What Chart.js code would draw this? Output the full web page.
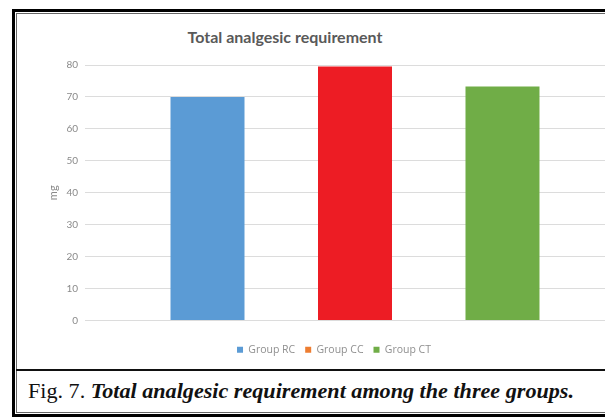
<!DOCTYPE html>
<html>
<head>
<meta charset="utf-8">
<script src="https://cdn.jsdelivr.net/npm/chart.js@4.4.1/dist/chart.umd.min.js"></script>
<style>
  html, body { margin: 0; padding: 0; width: 605px; height: 419px; overflow: hidden; background: #fff; }
  #outer { position: absolute; left: 12px; top: 9px; width: 640px; height: 408px; border: 3px solid #000; box-sizing: border-box; }
  #inner { position: absolute; left: 16px; top: 13px; width: 630px; height: 400px; border: 1px solid #666; box-sizing: border-box; }
  #rule { position: absolute; left: 16px; top: 369px; width: 630px; height: 2px; background: #111; }
  #title { position: absolute; left: 135px; top: 27px; width: 300px; text-align: center;
           font: bold 16px Lato, "Open Sans", sans-serif; color: #595959; }
  #wrap { position: absolute; left: 17px; top: 14px; width: 636px; height: 355px; }
  #caption { position: absolute; left: 28px; top: 379px; white-space: nowrap; transform-origin: 0 50%;
             font-family: "Liberation Serif", serif; font-size: 21px; color: #111; }
  #caption i { font-weight: bold; }
</style>
</head>
<body>
<div id="outer"></div>
<div id="inner"></div>
<div id="title">Total analgesic requirement</div>
<div id="wrap"><canvas id="chart"></canvas></div>
<div id="rule"></div>
<div id="caption">Fig. 7. <i>Total analgesic requirement among the three groups.</i></div>
<script>
// Total analgesic requirement (mg) per group
const groups = ['Group RC', 'Group CC', 'Group CT'];
const requirement = [70, 79.5, 73.3];
const barColors = ['#5B9BD5', '#ED1C24', '#70AD47'];
const legendColors = ['#5B9BD5', '#ED7D31', '#70AD47'];
const yTicks = [0, 10, 20, 30, 40, 50, 60, 70, 80];

// widen the caption's serif face to the figure's set width
const cap = document.getElementById('caption');
cap.style.transform = 'scaleX(' + (546 / cap.getBoundingClientRect().width) + ')';

// one category holding the three groups side by side
const datasets = groups.map((g, i) => ({
  label: g,
  data: [requirement[i]],
  backgroundColor: barColors[i],
  borderWidth: 0,
  categoryPercentage: 0.8194,
  barPercentage: 0.5017
}));

new Chart(document.getElementById('chart'), {
  type: 'bar',
  data: { labels: [''], datasets },
  options: {
    responsive: true,
    maintainAspectRatio: false,
    animation: false,
    layout: { padding: { top: 51, right: 28, bottom: 4, left: 26 } },
    plugins: {
      title: { display: false },
      tooltip: { enabled: false },
      legend: {
        position: 'bottom',
        labels: {
          boxWidth: 6,
          boxHeight: 6,
          padding: 10,
          color: '#8f8f8f',
          font: { family: '"Open Sans", Lato, sans-serif', size: 10.5 },
          generateLabels(chart) {
            const items = Chart.defaults.plugins.legend.labels.generateLabels(chart);
            items.forEach((it, i) => { it.fillStyle = legendColors[i]; it.strokeStyle = legendColors[i]; it.lineWidth = 0; });
            return items;
          }
        }
      }
    },
    scales: {
      x: {
        ticks: { display: false },
        grid: { display: false },
        border: { display: false },
        afterFit(scale) { scale.height = 14; }
      },
      y: {
        min: 0,
        max: 80,
        afterBuildTicks(scale) { scale.ticks = yTicks.map(v => ({ value: v })); },
        ticks: { padding: 7, color: '#8a8a8a', font: { family: 'Lato, "Open Sans", sans-serif', size: 10 } },
        grid: { color: '#dcdcdc', lineWidth: 1, drawTicks: false },
        border: { display: false },
        title: { display: true, text: 'mg', color: '#8a8a8a', padding: 4,
                 font: { family: 'Lato, "Open Sans", sans-serif', size: 11 } },
        afterFit(scale) { scale.width = 42; }
      }
    }
  }
});
</script>
</body>
</html>
